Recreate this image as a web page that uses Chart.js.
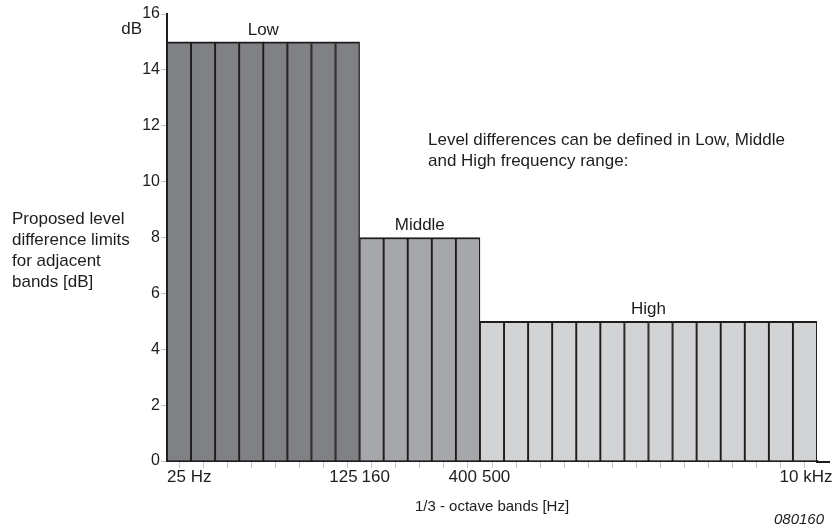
<!DOCTYPE html>
<html>
<head>
<meta charset="utf-8">
<script src="https://cdn.jsdelivr.net/npm/chart.js@4"></script>
<style>
  html, body { margin: 0; padding: 0; background: #fff; }
  #wrap { width: 836px; height: 531px; }
</style>
</head>
<body>
<div id="wrap"><canvas id="bands" width="836" height="531"></canvas></div>
<script>
// 1/3-octave band centre frequencies, 25 Hz .. 10 kHz
const bands = ['25', '31.5', '40', '50', '63', '80', '100', '125',
  '160', '200', '250', '315', '400',
  '500', '630', '800', '1k', '1.25k', '1.6k', '2k', '2.5k', '3.15k', '4k', '5k', '6.3k', '8k', '10k']
// proposed level difference limit per band [dB]
const limits = [15, 15, 15, 15, 15, 15, 15, 15,
  8, 8, 8, 8, 8,
  5, 5, 5, 5, 5, 5, 5, 5, 5, 5, 5, 5, 5, 5]
// frequency ranges: name, first and last band index
const rangeNames = ['Low', 'Middle', 'High']
const rangeStart = [0, 8, 13]
const rangeEnd = [7, 12, 26]
// the few bands that get a label under the axis
const tickBands = ['25', '125', '160', '400', '500', '10k']
const tickTexts = ['25 Hz', '125', '160', '400', '500', '10 kHz']
const yTicks = [0, 2, 4, 6, 8, 10, 12, 14, 16]

// how each axis label sits against its bar: edge and nudge
const tickAnchor = [['left', 0], ['right', -2], ['left', 2], ['right', -3], ['left', 2], ['center', 1]]

const rangeColors = ['#808185', '#a6a7aa', '#d2d3d5']
const ink = '#1f1c1d'
const font = '"Liberation Sans", Arial, sans-serif'

const barColors = bands.map((b, i) => {
  for (let r = 0; r < rangeNames.length; r++) {
    if (i >= rangeStart[r] && i <= rangeEnd[r]) return rangeColors[r]
  }
})

const textPlugin = {
  id: 'texts',
  afterDraw(chart) {
    const ctx = chart.ctx
    const x = chart.scales.x
    const y = chart.scales.y
    const area = chart.chartArea
    const half = (x.getPixelForValue(1) - x.getPixelForValue(0)) / 2
    ctx.save()

    // axis line runs a bit past the last bar
    ctx.strokeStyle = ink
    ctx.lineWidth = 2
    ctx.beginPath()
    ctx.moveTo(area.right - 1, area.bottom + 1)
    ctx.lineTo(area.right + 13, area.bottom + 1)
    ctx.stroke()

    ctx.fillStyle = ink
    ctx.textBaseline = 'middle'

    // band labels under the axis
    ctx.font = '17px ' + font
    tickBands.forEach((b, k) => {
      const cx = x.getPixelForValue(bands.indexOf(b))
      const [side, nudge] = tickAnchor[k]
      ctx.textAlign = side
      const px = side === 'left' ? cx - half : side === 'right' ? cx + half : cx
      ctx.fillText(tickTexts[k], px + nudge, 477)
    })

    // range names above each group of bars
    ctx.textAlign = 'center'
    rangeNames.forEach((name, r) => {
      const cx = (x.getPixelForValue(rangeStart[r]) + x.getPixelForValue(rangeEnd[r])) / 2
      ctx.fillText(name, cx, y.getPixelForValue(limits[rangeStart[r]]) - 12)
    })

    // unit at the top of the y axis
    ctx.textAlign = 'right'
    ctx.fillText('dB', area.left - 25, 29)

    // y axis description
    ctx.textAlign = 'left'
    const leftLines = ['Proposed level', 'difference limits', 'for adjacent', 'bands [dB]']
    leftLines.forEach((t, i) => ctx.fillText(t, 12, 219 + i * 21))

    // note
    ctx.fillText('Level differences can be defined in Low, Middle', 428, 140)
    ctx.fillText('and High frequency range:', 428, 161)

    // x title
    ctx.textAlign = 'center'
    ctx.font = '15px ' + font
    ctx.fillText('1/3 - octave bands [Hz]', (area.left + area.right) / 2, 507)

    // figure number
    ctx.textAlign = 'right'
    ctx.font = 'italic 15px ' + font
    ctx.fillText('080160', 824, 520)
    ctx.restore()
  }
}

new Chart(document.getElementById('bands'), {
  type: 'bar',
  data: {
    labels: bands,
    datasets: [{
      data: limits,
      backgroundColor: barColors,
      borderColor: ink,
      borderWidth: { top: 2, left: 1.3, right: 1.3, bottom: 0 },
      borderSkipped: false,
      barPercentage: 1,
      categoryPercentage: 1,
    }],
  },
  options: {
    responsive: false,
    animation: false,
    layout: { padding: { top: 14, right: 19, left: 0, bottom: 0 } },
    plugins: { legend: { display: false }, tooltip: { enabled: false } },
    scales: {
      x: {
        grid: { drawOnChartArea: false, offset: false, tickLength: 7, color: '#c4c4c4', lineWidth: 1 },
        border: { color: ink, width: 2 },
        ticks: {
          autoSkip: false, maxRotation: 0, padding: 2,
          font: { family: font, size: 16 },
          callback: () => '',
        },
        afterFit: (s) => { s.height = 70; s.paddingLeft = 0; s.paddingRight = 0 },
      },
      y: {
        min: 0, max: 16,
        afterBuildTicks: (s) => { s.ticks = yTicks.map(v => ({ value: v })) },
        grid: { drawOnChartArea: false, tickLength: 6, color: '#c4c4c4' },
        border: { color: ink, width: 2 },
        ticks: { padding: 1, color: ink, font: { family: font, size: 16 } },
        afterFit: (s) => { s.width = 167 },
      },
    },
  },
  plugins: [textPlugin],
})
</script>
</body>
</html>
